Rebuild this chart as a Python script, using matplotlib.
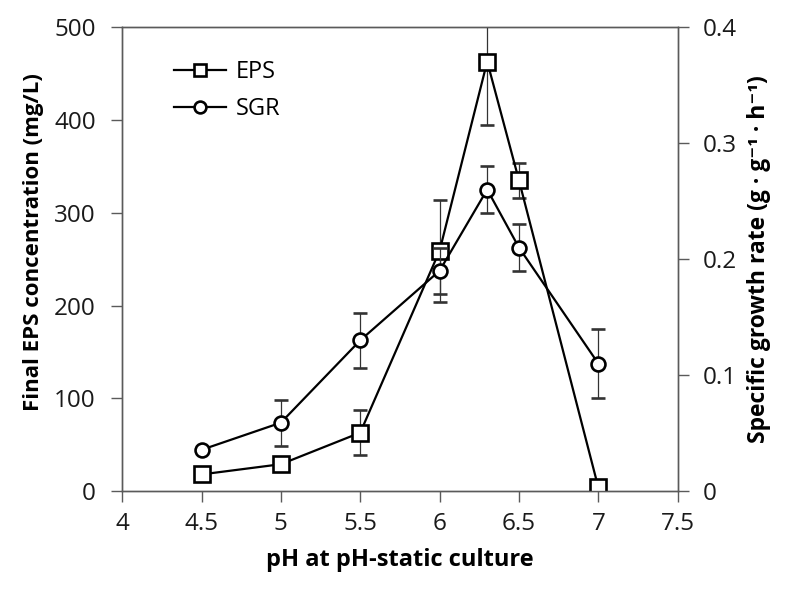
import matplotlib
matplotlib.use('Agg')
import matplotlib.pyplot as plt

plt.rcParams['font.family'] = ['Open Sans', 'DejaVu Sans']

ph = [4.5, 5, 5.5, 6, 6.3, 6.5, 7]
eps = [18, 29, 63, 259, 463, 335, 4]
eps_err = [0, 7, 24, 55, 68, 19, 0]
sgr = [0.0356, 0.059, 0.13, 0.19, 0.26, 0.21, 0.11]
sgr_err = [0, 0.0197, 0.024, 0.02, 0.02, 0.02, 0.03]

fig = plt.figure(figsize=(7.88, 5.91), dpi=100)
ax = fig.add_axes([0.155, 0.169, 0.705, 0.785])
ax2 = ax.twinx()

l1 = ax.errorbar(ph, eps, yerr=eps_err, color='black', lw=1.6, marker='s', ms=11,
                 mfc='white', mec='black', mew=1.9, ecolor='#333333', elinewidth=0.9,
                 capsize=4.8, capthick=0.9, label='EPS', zorder=3)
l2 = ax2.errorbar(ph, sgr, yerr=sgr_err, color='black', lw=1.6, marker='o', ms=10,
                  mfc='white', mec='black', mew=1.9, ecolor='#333333', elinewidth=0.9,
                  capsize=4.8, capthick=0.9, label='SGR', zorder=3)

ax.set_xlim(4, 7.5)
ax.set_ylim(0, 500)
ax2.set_ylim(0, 0.4)
ax.set_xticks([4, 4.5, 5, 5.5, 6, 6.5, 7, 7.5])
ax.set_xticklabels(['4', '4.5', '5', '5.5', '6', '6.5', '7', '7.5'])
ax.set_yticks([0, 100, 200, 300, 400, 500])
ax2.set_yticks([0, 0.1, 0.2, 0.3, 0.4])
ax2.set_yticklabels(['0', '0.1', '0.2', '0.3', '0.4'])

for a in (ax, ax2):
    for s in a.spines.values():
        s.set_color('#5a5a5a')
        s.set_linewidth(1.0)
    a.tick_params(direction='out', length=8, width=1.0, color='#5a5a5a',
                  labelsize=17.5, labelcolor='#1a1a1a')
ax.tick_params(axis='x', pad=7)
ax.tick_params(axis='y', pad=11)
ax2.tick_params(axis='y', pad=10)

ax.set_xlabel('pH at pH-static culture', fontsize=17, fontweight='bold', labelpad=9)
ax.set_ylabel('Final EPS concentration (mg/L)', fontsize=16, fontweight='bold')
ax.yaxis.set_label_coords(-0.14, 0.537)
ax2.set_ylabel('Specific growth rate (g · g⁻¹ · h⁻¹)', fontsize=16.5, fontweight='bold',
               labelpad=7)

leg = ax.legend([l1.lines[0], l2.lines[0]], ['EPS', 'SGR'], loc='upper left',
                bbox_to_anchor=(0.055, 0.975), frameon=False, fontsize=17,
                handlelength=2.2, markerscale=0.85, labelspacing=0.55, handletextpad=0.4)

fig.savefig('out.png', dpi=100)
